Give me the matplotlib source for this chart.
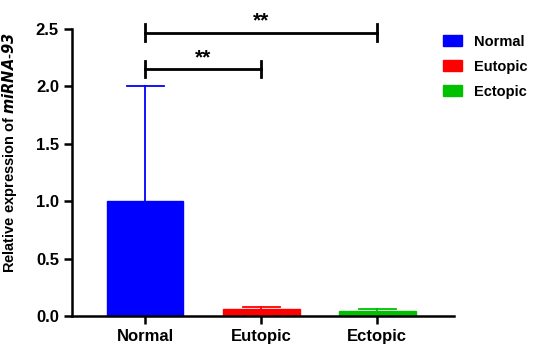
import matplotlib.pyplot as plt
import matplotlib.patches as mpatches
import numpy as np

plt.rcParams['font.family'] = ['Liberation Sans', 'DejaVu Sans']

groups = ['Normal', 'Eutopic', 'Ectopic']
means = [1.0, 0.06, 0.045]
errs = [1.0, 0.02, 0.015]
colours = ['#0000FF', '#FF0000', '#00C000']
# significance brackets: (from, to, height, label)
brackets = [(0, 2, 2.47, '**'), (0, 1, 2.15, '**')]

fig = plt.figure(figsize=(5.34, 3.46), dpi=100)
ax = fig.add_axes([0.135, 0.087, 0.715, 0.829])

x = np.arange(len(groups))
for i in range(len(groups)):
    ax.bar(x[i], means[i], width=0.66, color=colours[i], edgecolor=colours[i])
    top = means[i] + errs[i]
    ax.plot([x[i], x[i]], [means[i], top], color=colours[i], lw=1.3)
    ax.plot([x[i] - 0.16, x[i] + 0.16], [top, top], color=colours[i], lw=1.3)

for a, b, h, lab in brackets:
    ax.plot([a, b], [h, h], color='black', lw=2, clip_on=False)
    for e in (a, b):
        ax.plot([e, e], [h - 0.07, h + 0.07], color='black', lw=2, clip_on=False)
    ax.text((a + b) / 2, h + 0.02, lab, ha='center', va='bottom',
            fontsize=15, fontweight='bold', clip_on=False)

ax.set_xlim(-0.63, 2.66)
ax.set_ylim(0, 2.5)
ax.set_yticks(np.arange(0, 2.51, 0.5))
ax.set_yticklabels(['%.1f' % v for v in np.arange(0, 2.51, 0.5)],
                   fontsize=12, fontweight='bold')
ax.set_xticks(x)
ax.set_xticklabels(groups, fontsize=12, fontweight='bold')
ax.set_ylabel('Relative expression of $\\mathbfit{miRNA}$-$\\mathbfit{93}$',
              fontsize=10.5, fontweight='bold')
ax.yaxis.set_label_coords(-0.139, 0.568)
ax.tick_params(width=1.8, length=6)
for s in ['top', 'right']:
    ax.spines[s].set_visible(False)
for s in ['left', 'bottom']:
    ax.spines[s].set_linewidth(1.8)

handles = [mpatches.Patch(color=c, label=g) for g, c in zip(groups, colours)]
leg = fig.legend(handles=handles, loc='upper left', bbox_to_anchor=(0.821, 0.912),
                 frameon=False, prop={'weight': 'bold', 'size': 10.5},
                 handlelength=1.35, handleheight=0.8, labelspacing=0.75,
                 handletextpad=0.8, borderaxespad=0, borderpad=0.3)

plt.savefig('out.png', dpi=100)
